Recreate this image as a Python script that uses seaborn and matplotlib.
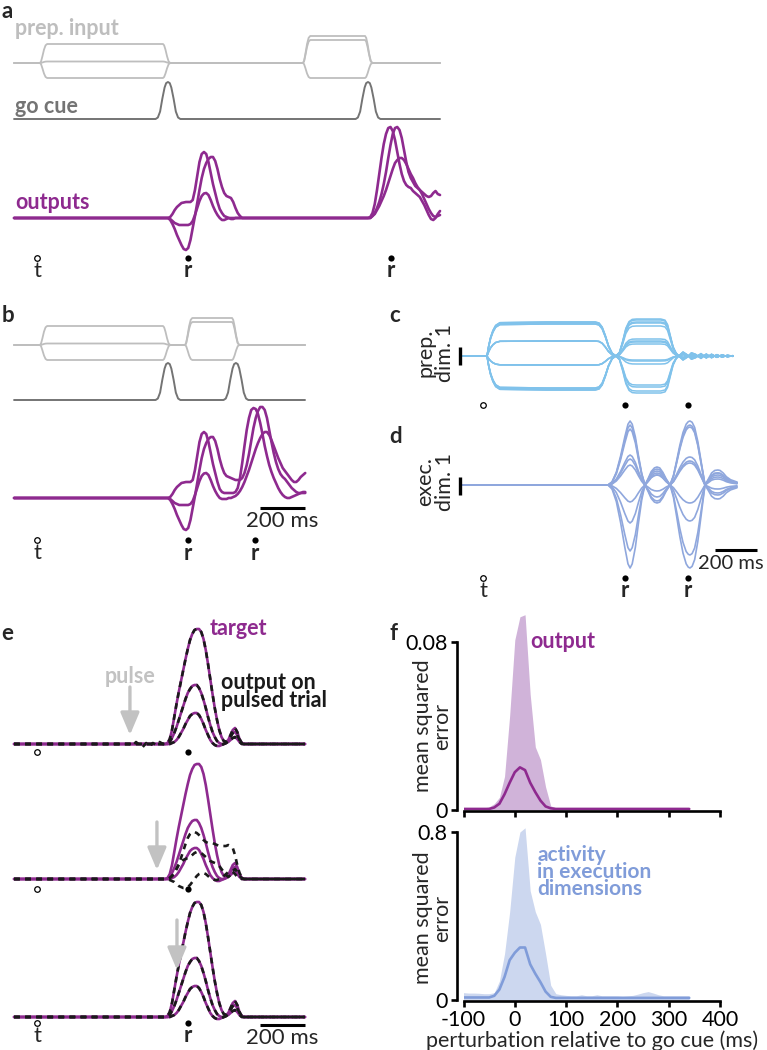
import matplotlib
matplotlib.use("Agg")
import matplotlib.pyplot as plt
import numpy as np
import seaborn as sns

# ------------------------------------------------------------------ colours
PURPLE = "#8e2a8f"
PREP_GREY = "#bebebe"
GO_GREY = "#747474"
C_BLUE = "#80c2eb"
D_BLUE = "#8fa7dd"
F_PURPLE_FILL = "#d0b3d9"
F_BLUE_FILL = "#ccd7ef"
F_BLUE = "#809cd9"
ARROW_GREY = "#c2c2c2"

W, H = 767, 1050
MS_PER_PX = 4.444      # panels a, b, e (200 ms scale bar)
MS_PER_PX_CD = 4.725   # panels c, d
FS = 15.5              # annotation text size

# ------------------------------------------------------------------ events (ms from target onset)
GO_A = [582, 1471]
GO_B = [582, 884]
R_A = [671, 1573]
R_B = [671, 969]
R_E = [671]
PULSE_E = [413, 533, 622]

# ------------------------------------------------------------------ preparatory inputs
PREP_ON_A = [13, 1182]
PREP_OFF_A = [560, 1458]
PREP_ON_B = [13, 658]
PREP_OFF_B = [560, 867]
PREP_LEVEL_1 = [19, 1.5, -15]
PREP_LEVEL_2 = [27, 23, -15]
EDGE_T = [0, 5, 11, 18, 25, 32]
EDGE_V = [0.0, 0.08, 0.35, 0.7, 0.93, 1.0]

# ------------------------------------------------------------------ go cue
GO_T = [-55, -45, -35, -25, -15, -8, 0, 8, 15, 25, 35, 45, 55]
GO_V = [0, 0.04, 0.2, 0.55, 0.85, 0.97, 1, 0.97, 0.85, 0.55, 0.2, 0.04, 0]
GO_AMP = 37

# ------------------------------------------------------------------ outputs (ms after go cue)
R1_T = [0, 10, 20, 30, 40, 50, 60, 70, 80, 90, 100, 110, 120, 130, 140, 150, 160, 170,
        180, 190, 200, 210, 220, 230, 240, 250, 260, 270, 280, 290, 300, 310, 320, 330, 340]
OUT1_A = [0, 1, 4, 8, 11, 13, 15, 15.5, 16, 16,
          16, 18, 28, 42, 56, 64, 66, 64, 56, 45,
          34, 25, 16, 9, 5, 2, 1, 0, -1, -1,
          0, 0, 0, 0, 0]
OUT1_B = [0, -2, -6, -11, -17, -22, -27, -31, -32, -30,
          -22, -10, 2, 15, 28, 40, 49, 55, 59, 61,
          61, 57, 49, 39, 31, 25, 22, 21, 20, 16,
          10, 5, 2, 0, 0]
OUT1_C = [0, -1, -3, -5, -6, -7, -7, -7, -7, -7,
          -6, -3, 3, 10, 17, 22, 24.5, 25, 23, 18,
          12, 7, 3, 0, -2, -2, -1, 0, 0, 0,
          0, 0, 0, 0, 0]

R2_T = [0, 10, 20, 30, 40, 50, 60, 70, 80, 90, 100, 110, 120, 130, 140, 150, 160,
        170, 180, 190, 200, 210, 220, 230, 240, 250, 260, 270, 280, 290, 300, 310, 320]
OUT2_A = [0, 1, 5, 14, 28, 44, 60, 74, 84, 90,
          91, 87, 78, 66, 54, 44, 37, 33, 31, 30,
          27, 25, 23, 21, 17, 13, 8, 3, -1, -2,
          0, 4, 7]
OUT2_B = [0, 0, 2, 5, 10, 16, 24, 34, 46, 60,
          73, 84, 90, 91, 88, 80, 68, 56, 46, 40,
          36, 32, 30, 28, 26, 24, 22, 21, 22, 25,
          27, 24, 23]
OUT2_C = [0, 0, 2, 4, 8, 12, 17, 22, 28, 35,
          42, 49, 55, 58, 60, 60, 58, 54, 49, 44,
          40, 35, 31, 28, 24, 19, 14, 9, 5, 2,
          1, 2, 3]

# panel b: second go cue arrives while first response decays (values from 240 ms on)
RB_T = [0, 10, 20, 30, 40, 50, 60, 70, 80, 90, 100, 110, 120, 130, 140, 150, 160, 170,
        180, 190, 200, 210, 220, 230, 240, 250, 260, 270, 280, 290, 300, 310, 320, 330,
        340, 350, 360, 370, 380, 390, 400, 410, 420, 430, 440, 450, 460, 470, 480, 490,
        500, 510, 520, 530, 540, 550, 560, 570, 580, 590, 600, 610]
OUTB_A = [6, 5, 5, 5, 5, 5, 6, 10, 20, 35,
          52, 68, 80, 88, 90, 89, 84, 75, 64, 52,
          42, 33, 26, 20, 15, 10, 6, 3, 1, 0,
          0, 1, 2, 3, 4, 5, 6, 6]
OUTB_B = [31, 25, 22, 21, 20, 19, 18, 18, 18, 20,
          25, 33, 44, 57, 70, 80, 87, 91, 91, 88,
          80, 68, 56, 45, 36, 29, 24, 21, 19, 16,
          13, 10, 8, 6, 5, 5, 5, 5]
OUTB_C = [-1, -1, -1, 0, 0, 1, 2, 4, 7, 11,
          16, 22, 28, 35, 42, 49, 55, 60, 64, 66,
          66, 63, 58, 52, 46, 40, 35, 30, 27, 24,
          21, 18, 16, 16, 18, 21, 23, 25]

# ------------------------------------------------------------------ panel c: preparatory dimension
C_T = [-94, 19, 27, 36, 47, 60, 80, 300, 530, 548,
       563, 578, 593, 610, 628, 645, 660, 675, 690, 705,
       725, 760, 800, 840, 860, 872, 885, 898, 912, 925,
       945, 965, 985, 1005, 1030, 1055, 1080, 1105, 1130, 1155,
       1181]
C_E1 = [0, 0, 0.3, 0.55, 0.75, 0.9, 0.98, 1, 1, 0.97,
        0.85, 0.6, 0.3, 0.08, 0, 0, 0, 0, 0, 0,
        0, 0, 0, 0, 0, 0, 0, 0, 0, 0,
        0, 0, 0, 0, 0, 0, 0, 0, 0, 0,
        0]
C_E2 = [0, 0, 0, 0, 0, 0, 0, 0, 0, 0,
        0, 0, 0, 0, 0, 0.1, 0.4, 0.75, 0.93, 0.99,
        1, 1, 1, 1, 0.97, 0.85, 0.55, 0.25, 0.08, 0,
        0, 0, 0, 0, 0, 0, 0, 0, 0, 0,
        0]
C_TAIL = [0, 0, 0, 0, 0, 0, 0, 0, 0, 0,
          0, 0, 0, 0, 0, 0, 0, 0, 0, 0,
          0, 0, 0, 0, 0, 0, 0, 0, 0, 0,
          1, 0.3, -0.8, -0.4, 0.6, -0.5, 0.45, -0.35, 0.3, -0.2,
          0.1]
C_LEVEL_1 = [34, 33, 32, 15, 15, -9, -9, -32, -33, -34, 34, 32, 15, -9, -32, -34]
C_LEVEL_2 = [37, 17, -5, 34, -31, 12, 36, -8, 30, 15, -37, -4, -35, 33, 14, -29]
C_TAIL_AMP = [4, -3, 2, -4, 3, 2, -2, 4, -3, 1, 3, -4, 2, -1, 3, -2]

# ------------------------------------------------------------------ panel d: execution dimension
D_T = [-94, 540, 591, 610, 630, 650, 670, 685, 695, 705,
       720, 735, 750, 765, 780, 795, 810, 822, 835, 850,
       865, 884, 900, 915, 930, 945, 960, 970, 978, 988,
       1000, 1015, 1030, 1049, 1065, 1080, 1095, 1110, 1120, 1135,
       1150, 1170, 1200]
D_LOBE1 = [0, 0, 0, 0.05, 0.2, 0.45, 0.75, 0.95, 1, 0.95,
           0.75, 0.45, 0.18, 0, 0, 0, 0, 0, 0, 0,
           0, 0, 0, 0, 0, 0, 0, 0, 0, 0,
           0, 0, 0, 0, 0, 0, 0, 0, 0, 0,
           0, 0, 0]
D_MINOR1 = [0, 0, 0, 0, 0, 0, 0, 0, 0, 0,
            0, 0, 0, 0, 0.35, 0.75, 0.95, 1, 0.95, 0.7,
            0.35, 0, 0, 0, 0, 0, 0, 0, 0, 0,
            0, 0, 0, 0, 0, 0, 0, 0, 0, 0,
            0, 0, 0]
D_LOBE2 = [0, 0, 0, 0, 0, 0, 0, 0, 0, 0,
           0, 0, 0, 0, 0, 0, 0, 0, 0, 0,
           0, 0, 0.15, 0.38, 0.62, 0.82, 0.95, 0.99, 1, 0.98,
           0.9, 0.68, 0.38, 0, 0, 0, 0, 0, 0, 0,
           0, 0, 0]
D_MINOR2 = [0, 0, 0, 0, 0, 0, 0, 0, 0, 0,
            0, 0, 0, 0, 0, 0, 0, 0, 0, 0,
            0, 0, 0, 0, 0, 0, 0, 0, 0, 0,
            0, 0, 0, 0, 0.4, 0.8, 0.97, 1, 0.97, 0.8,
            0.55, 0.35, 0.2]
D_AMP_L1 = [64, 60, 56, 30, 26, 20, -17, -38, -66, -83]
D_AMP_M1 = [-16, -12, -18, 10, 12, -6, 14, 18, 10, 16]
D_AMP_L2 = [64, 58, 60, 28, 24, 22, -18, -36, -70, -83]
D_AMP_M2 = [-10, -14, -8, 12, 6, -4, 12, 15, 8, 10]

# ------------------------------------------------------------------ panel e: targets and pulsed outputs
E_T = [570, 580, 590, 600, 610, 620, 630, 640, 650, 660, 670, 680, 690, 700, 710, 720, 730,
       740, 750, 760, 770, 780, 790, 800, 810, 820, 830, 840, 850, 860, 870, 880, 890, 900,
       910, 920, 930]
E_TALL = [0, 1, 5, 14, 27, 40, 52, 63, 74, 85,
          95, 104, 110, 114, 115, 115, 112, 105, 94, 80,
          65, 50, 36, 24, 14, 7, 3, 2, 4, 9,
          14, 16, 12, 5, 1, 0, 0]
E_MID = [0, 0, 2, 6, 11, 17, 24, 31, 38, 45,
         51, 55, 58, 59, 59, 56, 51, 44, 36, 27,
         19, 12, 7, 3, 1, 0, 0, 1, 3, 7,
         11, 12, 9, 4, 1, 0, 0]
E_LOW = [0, 0, 0, 1, 2, 4, 7, 11, 15, 20,
         24, 28, 30, 31, 31, 29, 25, 20, 14, 9,
         4, 1, -1, -2, -2, -1, 0, 1, 2, 4,
         6, 7, 5, 2, 0, 0, 0]
E2_OUT_A = [0, 0, 1, 3, 6, 10, 15, 21, 28, 35,
            41, 45, 47, 47, 46, 44, 42, 39, 37, 36,
            36, 36, 35, 34, 33, 33, 33, 33, 34, 33,
            31, 24, 14, 6, 2, 0, 0]
E2_OUT_B = [0, 0, 1, 3, 6, 10, 14, 17, 19, 20,
            21, 22, 24, 26, 27, 27, 26, 24, 22, 20,
            18, 17, 16, 15, 13, 10, 7, 4, 2, 4,
            8, 10, 7, 3, 1, 0, 0]
E2_OUT_C = [0, 0, -1, -2, -3, -5, -7, -8, -9, -9,
            -8, -6, -3, 0, 3, 5, 6, 6, 5, 3,
            1, 0, -1, -1, 0, 1, 3, 5, 7, 8,
            7, 5, 2, 1, 0, 0, 0]
E1_WIG_T = [413, 425, 440, 455, 470, 485, 500, 515, 530, 545, 560]
E1_WIG_V = [0, -2, 2, -1, -3, 1, -2, 1, -1, 2, 0]

# ------------------------------------------------------------------ panel f: mean squared error
F_T = [-100, -90, -80, -70, -60, -50, -40, -30, -20, -10, 0, 10, 20, 30, 40, 50, 60, 70,
       80, 90, 100, 110, 120, 130, 140, 150, 160, 170, 180, 190, 200, 210, 220, 230, 240,
       250, 260, 270, 280, 290, 300, 310, 320, 330, 340]
F_OUT_HI = [0.001, 0.001, 0.001, 0.001, 0.001, 0.0015, 0.003, 0.006, 0.016, 0.045,
            0.081, 0.092, 0.093, 0.055, 0.03, 0.024, 0.011, 0.002, 0.001, 0.001,
            0.001, 0.001, 0.001, 0.001, 0.001, 0.001, 0.001, 0.001, 0.001, 0.001,
            0.001, 0.001, 0.001, 0.001, 0.001, 0.001, 0.001, 0.001, 0.001, 0.001,
            0.001, 0.001, 0.001, 0.001, 0.001]
F_OUT_MEAN = [0.0005, 0.0005, 0.0005, 0.0005, 0.0005, 0.0005, 0.0012, 0.003, 0.0075, 0.013,
              0.018, 0.0203, 0.019, 0.013, 0.0085, 0.0045, 0.0017, 0.0008, 0.0005, 0.0005,
              0.0005, 0.0005, 0.0005, 0.0005, 0.0005, 0.0005, 0.0005, 0.0005, 0.0005, 0.0005,
              0.0005, 0.0005, 0.0005, 0.0005, 0.0005, 0.0005, 0.0005, 0.0005, 0.0005, 0.0005,
              0.0005, 0.0005, 0.0005, 0.0005, 0.0005]
F_ACT_HI = [0.035, 0.033, 0.033, 0.032, 0.03, 0.03, 0.035, 0.09, 0.22, 0.42,
            0.68, 0.80, 0.82, 0.52, 0.42, 0.36, 0.22, 0.07, 0.03, 0.025,
            0.022, 0.02, 0.02, 0.025, 0.02, 0.02, 0.025, 0.02, 0.02, 0.02,
            0.02, 0.018, 0.02, 0.022, 0.028, 0.035, 0.04, 0.033, 0.025, 0.02,
            0.02, 0.02, 0.02, 0.02, 0.02]
F_ACT_MEAN = [0.012, 0.012, 0.012, 0.012, 0.012, 0.012, 0.02, 0.05, 0.11, 0.19,
              0.225, 0.25, 0.25, 0.17, 0.125, 0.085, 0.04, 0.015, 0.01, 0.01,
              0.01, 0.01, 0.01, 0.01, 0.01, 0.01, 0.01, 0.01, 0.01, 0.01,
              0.01, 0.01, 0.01, 0.01, 0.01, 0.01, 0.01, 0.01, 0.01, 0.01,
              0.01, 0.01, 0.01, 0.01, 0.01]
F_XTICKS = [-100, 0, 100, 200, 300, 400]


# ------------------------------------------------------------------ helpers
def px_ax(fig, x0, y0, x1, y1, xt, k):
    # axes over a pixel box; x in ms (xt = pixel of target onset), y = -pixel row
    ax = fig.add_axes([x0 / W, 1 - y1 / H, (x1 - x0) / W, (y1 - y0) / H])
    ax.set_xlim((x0 - xt) * k, (x1 - xt) * k)
    ax.set_ylim(-y1, -y0)
    ax.set_axis_off()
    return ax


def trace(ax, t, v, base, color, lw, **kw):
    sns.lineplot(x=np.asarray(t, float), y=-base + np.asarray(v, float), ax=ax,
                 color=color, lw=lw, estimator=None, sort=False, **kw)


def ftext(fig, x, y, s, **kw):
    fig.text(x / W, 1 - y / H, s, **kw)


def prep_trace(ons, offs, levels, t0, t1):
    t, v = [t0], [0.0]
    for on, off, lev in zip(ons, offs, levels):
        t += [on + d for d in EDGE_T]
        v += [lev * e for e in EDGE_V]
        t += [off + d for d in EDGE_T]
        v += [lev * e for e in EDGE_V[::-1]]
    t.append(t1)
    v.append(0.0)
    return t, v


def go_trace(gos, t0, t1):
    t, v = [t0], [0.0]
    for g in gos:
        t += [g + d for d in GO_T]
        v += [GO_AMP * e for e in GO_V]
    t.append(t1)
    v.append(0.0)
    return t, v


def markers(ax, y, t_times, r_times, letters=True):
    sns.scatterplot(x=t_times, y=[-y] * len(t_times), ax=ax, s=16, color="white",
                    edgecolor="black", linewidth=0.9, zorder=5)
    sns.scatterplot(x=r_times, y=[-y] * len(r_times), ax=ax, s=20, color="black",
                    edgecolor="black", linewidth=0, zorder=5)
    if letters:
        for tt in t_times:
            ax.text(tt, -(y + 13), "t", ha="center", va="center", fontsize=16)
        for rr in r_times:
            ax.text(rr, -(y + 13), "r", ha="center", va="center", fontsize=16,
                    fontweight="bold")


def scale_bar(ax, t_end, y, ytext, fs=16, text_shift=0):
    ax.plot([t_end - 200, t_end], [-y, -y], color="black", lw=2.2,
            solid_capstyle="butt")
    ax.text(t_end - 100 + text_shift, -ytext, "200 ms", ha="center", va="center",
            fontsize=fs)


# ------------------------------------------------------------------ figure
sns.set_theme(style="white")
plt.rcParams["font.family"] = ["Lato", "DejaVu Sans"]
fig = plt.figure(figsize=(W / 100, H / 100), dpi=100)

# ---- panel a
ax = px_ax(fig, 0, 0, 450, 285, 37, MS_PER_PX)
T0, T1 = -102, 1791
for i in range(3):
    t, v = prep_trace(PREP_ON_A, PREP_OFF_A, [PREP_LEVEL_1[i], PREP_LEVEL_2[i]], T0, T1)
    trace(ax, t, v, 63, PREP_GREY, 1.3)
t, v = go_trace(GO_A, T0, T1)
trace(ax, t, v, 119, GO_GREY, 1.4)
for o1, o2 in [(OUT1_A, OUT2_A), (OUT1_B, OUT2_B), (OUT1_C, OUT2_C)]:
    t = [T0] + [GO_A[0] + d for d in R1_T] + [GO_A[1] + d for d in R2_T]
    trace(ax, t, [0] + o1 + o2, 218, PURPLE, 1.9)
markers(ax, 258, [0], R_A)
ftext(fig, 15, 35, "prep. input", color=PREP_GREY, fontsize=FS, fontweight="bold")
ftext(fig, 15, 113, "go cue", color=GO_GREY, fontsize=FS, fontweight="bold")
ftext(fig, 15, 209, "outputs", color=PURPLE, fontsize=FS, fontweight="bold")

# ---- panel b
ax = px_ax(fig, 0, 280, 380, 560, 37, MS_PER_PX)
T0, T1 = -102, 1191
for i in range(3):
    t, v = prep_trace(PREP_ON_B, PREP_OFF_B, [PREP_LEVEL_1[i], PREP_LEVEL_2[i]], T0, T1)
    trace(ax, t, v, 345, PREP_GREY, 1.3)
t, v = go_trace(GO_B, T0, T1)
trace(ax, t, v, 400, GO_GREY, 1.4)
for o1, ob in [(OUT1_A, OUTB_A), (OUT1_B, OUTB_B), (OUT1_C, OUTB_C)]:
    t = [T0] + [GO_B[0] + d for d in RB_T]
    trace(ax, t, [0] + o1[:24] + ob, 498, PURPLE, 1.9)
markers(ax, 540, [0], R_B)
scale_bar(ax, 1191, 508, 521)

# ---- panel c
ax = px_ax(fig, 380, 285, 767, 410, 483, MS_PER_PX_CD)
for l1, l2, ta in zip(C_LEVEL_1, C_LEVEL_2, C_TAIL_AMP):
    v = [l1 * a + l2 * b + ta * c for a, b, c in zip(C_E1, C_E2, C_TAIL)]
    trace(ax, C_T, v, 356, C_BLUE, 1.1)
ax.plot([-109, -109], [-347, -365], color="black", lw=2.4, solid_capstyle="butt")
markers(ax, 405, [0], R_B, letters=False)
ftext(fig, 435, 353, "prep.\ndim. 1", rotation=90, ha="center", va="center",
      fontsize=FS, linespacing=0.95)

# ---- panel d
ax = px_ax(fig, 380, 410, 767, 600, 483, MS_PER_PX_CD)
for a1, m1, a2, m2 in zip(D_AMP_L1, D_AMP_M1, D_AMP_L2, D_AMP_M2):
    v = [a1 * p + m1 * q + a2 * r + m2 * s
         for p, q, r, s in zip(D_LOBE1, D_MINOR1, D_LOBE2, D_MINOR2)]
    trace(ax, D_T, v, 485, D_BLUE, 1.2)
ax.plot([-109, -109], [-477, -495], color="black", lw=2.4, solid_capstyle="butt")
markers(ax, 578, [0], R_B)
scale_bar(ax, 1296, 550, 564, fs=14.5, text_shift=-25)
ftext(fig, 435, 482, "exec.\ndim. 1", rotation=90, ha="center", va="center",
      fontsize=FS, linespacing=0.95)

# ---- panel e
ax = px_ax(fig, 0, 560, 380, 1050, 37, MS_PER_PX)
T0, T1 = -102, 1191
dash = (0, (2.2, 2.0))
bases = [744, 879, 1017]
targets = [E_TALL, E_MID, E_LOW]
for base in bases:
    for tg in targets:
        trace(ax, [T0] + E_T + [T1], [0] + tg + [0], base, PURPLE, 1.9)
# block 1: output follows the target after a small kink at the pulse
for j, tg in enumerate(targets):
    if j == 0:
        t = [T0] + E1_WIG_T + E_T + [T1]
        v = [0] + E1_WIG_V + tg + [0]
    else:
        t, v = [T0] + E_T + [T1], [0] + tg + [0]
    trace(ax, t, v, bases[0], "#1a1a1a", 1.9, linestyle=dash)
# block 2: pulse near the go cue disrupts the output
for out in [E2_OUT_A, E2_OUT_B, E2_OUT_C]:
    trace(ax, [T0] + E_T + [T1], [0] + out + [0], bases[1], "#1a1a1a", 1.9, linestyle=dash)
# block 3: late pulse, output unaffected
for tg in targets:
    trace(ax, [T0] + E_T + [T1], [0] + tg + [0], bases[2], "#1a1a1a", 1.9, linestyle=dash)

arrow_spans = [(687, 735), (822, 870), (920, 970)]
for p, (y0, y1) in zip(PULSE_E, arrow_spans):
    ax.annotate("", xy=(p, -y1), xytext=(p, -y0),
                arrowprops=dict(arrowstyle="-|>,head_length=0.9,head_width=0.38",
                                color=ARROW_GREY, lw=2.4, mutation_scale=15,
                                shrinkA=0, shrinkB=0))
markers(ax, 752, [0], R_E, letters=False)
markers(ax, 889, [0], R_E, letters=False)
markers(ax, 1023, [0], R_E)
scale_bar(ax, 1191, 1025, 1038)
ax.text(PULSE_E[0], -683, "pulse", ha="center", va="baseline", color=ARROW_GREY,
        fontsize=FS, fontweight="bold")
ftext(fig, 210, 635, "target", color=PURPLE, fontsize=FS, fontweight="bold")
ftext(fig, 221, 707, "output on\npulsed trial", color="#1a1a1a", fontsize=FS,
      fontweight="bold", va="baseline", linespacing=0.82)


# ---- panel f
def mse_axes(y_top, y_zero, y_label_val, ymax_val):
    ax = fig.add_axes([463.5 / W, 1 - y_zero / H, (720 - 463.5) / W, (y_zero - y_top) / H])
    ax.set_facecolor("none")
    ax.set_xlim(-100, 400)
    ax.set_ylim(0, ymax_val)
    for side in ["top", "right"]:
        ax.spines[side].set_visible(False)
    for side in ["left", "bottom"]:
        ax.spines[side].set_linewidth(1.9)
        ax.spines[side].set_color("black")
    ax.spines["left"].set_position(("outward", 5))
    ax.spines["bottom"].set_position(("outward", 1))
    ax.spines["left"].set_bounds(0, y_label_val)
    ax.spines["bottom"].set_bounds(-100, 400)
    ax.set_xticks(F_XTICKS)
    ax.set_yticks([0, y_label_val])
    ax.tick_params(axis="both", direction="out", length=4.5, width=1.9, labelsize=15.5,
                   pad=2, colors="black", left=True, bottom=True)
    ax.grid(False)
    return ax


ax = mse_axes(600, 810, 0.08, 0.08 * 210 / 168)
ax.fill_between(F_T, 0, F_OUT_HI, color=F_PURPLE_FILL, lw=0, clip_on=False)
sns.lineplot(x=F_T, y=F_OUT_MEAN, ax=ax, color=PURPLE, lw=1.9, estimator=None)
ax.set_yticklabels(["0", "0.08"])
ax.set_xticklabels([])
ax.set_xlabel("")
ax.set_ylabel("")

ax = mse_axes(812, 1000, 0.8, 0.8 * 188 / 168)
ax.fill_between(F_T, 0, F_ACT_HI, color=F_BLUE_FILL, lw=0, clip_on=False)
sns.lineplot(x=F_T, y=F_ACT_MEAN, ax=ax, color=F_BLUE, lw=1.9, estimator=None)
ax.set_yticklabels(["0", "0.8"])
ax.set_xticklabels([str(x) for x in F_XTICKS])
ax.set_xlabel("perturbation relative to go cue (ms)", fontsize=FS, labelpad=0)
ax.set_ylabel("")

ftext(fig, 433, 726, "mean squared\nerror", rotation=90, ha="center", va="center",
      fontsize=FS, linespacing=0.95)
ftext(fig, 433, 918, "mean squared\nerror", rotation=90, ha="center", va="center",
      fontsize=FS, linespacing=0.95)
ftext(fig, 530, 648, "output", color=PURPLE, fontsize=FS, fontweight="bold")
ftext(fig, 537, 895, "activity\nin execution\ndimensions", color=F_BLUE, fontsize=15,
      fontweight="bold", va="baseline", linespacing=0.82)

# ---- panel letters
ftext(fig, 2, 0.5, "a", fontsize=16, fontweight="bold", va="top", ha="left")
for letter, (x, y) in {"b": (2, 322), "c": (389, 322), "d": (389, 443),
                       "e": (1, 640), "f": (389, 640)}.items():
    ftext(fig, x, y, letter, fontsize=16, fontweight="bold", va="baseline", ha="left")

fig.savefig("out.png", dpi=100)
